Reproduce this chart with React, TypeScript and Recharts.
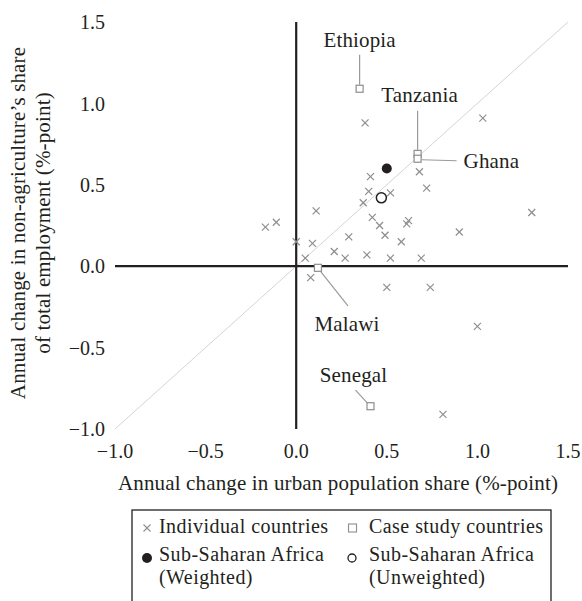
import React from 'react';
import { ScatterChart, Scatter, XAxis, YAxis, ReferenceLine } from 'recharts';

const FONT = 'Liberation Serif';
const INK = '#231f20';
const GREY = '#8e8e8e';

const axisTicks = [-1, -0.5, 0, 0.5, 1, 1.5];

const individualCountries = [
  { x: 0.38, y: 0.88 }, { x: 1.03, y: 0.91 }, { x: 0.41, y: 0.55 }, { x: 0.68, y: 0.58 },
  { x: 0.4, y: 0.46 }, { x: 0.52, y: 0.45 }, { x: 0.72, y: 0.48 }, { x: 0.37, y: 0.39 },
  { x: 0.11, y: 0.34 }, { x: 1.3, y: 0.33 }, { x: 0.42, y: 0.3 }, { x: 0.46, y: 0.25 },
  { x: 0.62, y: 0.28 }, { x: 0.61, y: 0.26 }, { x: 0.9, y: 0.21 }, { x: 0.29, y: 0.18 },
  { x: 0.49, y: 0.19 }, { x: 0.58, y: 0.15 }, { x: 0.0, y: 0.15 }, { x: 0.09, y: 0.14 },
  { x: 0.21, y: 0.09 }, { x: 0.27, y: 0.05 }, { x: 0.39, y: 0.07 }, { x: 0.05, y: 0.05 },
  { x: 0.52, y: 0.05 }, { x: 0.69, y: 0.05 }, { x: 0.08, y: -0.07 }, { x: 0.5, y: -0.13 },
  { x: 0.74, y: -0.13 }, { x: -0.17, y: 0.24 }, { x: -0.11, y: 0.27 }, { x: 1.0, y: -0.37 },
  { x: 0.81, y: -0.91 },
];

const caseNames = ['Ethiopia', 'Tanzania', 'Ghana', 'Malawi', 'Senegal'];
const caseX = [0.35, 0.67, 0.67, 0.12, 0.41];
const caseY = [1.09, 0.69, 0.66, -0.01, -0.86];

const ssaWeighted = [{ x: 0.5, y: 0.6 }];
const ssaUnweighted = [{ x: 0.47, y: 0.42 }];

const caseStudyCountries = caseNames.map((name, i) => ({ name, x: caseX[i], y: caseY[i] }));

// callout placement, in px relative to each marker
const callouts: Record<string, { line: number[]; text: number[]; anchor: 'start' | 'middle' }> = {
  Ethiopia: { line: [0, -34, 0, -4], text: [0, -42], anchor: 'middle' },
  Tanzania: { line: [0, -43, 0, -4], text: [2, -52], anchor: 'middle' },
  Ghana: { line: [4, 1, 39, 2], text: [46, 9], anchor: 'start' },
  Malawi: { line: [3, 4, 30, 38], text: [29, 63], anchor: 'middle' },
  Senegal: { line: [-15, -16, -3, -3], text: [-17, -24], anchor: 'middle' },
};

const fmt = (v: number) => v.toFixed(1).replace('-', '\u2212');

const Cross = ({ cx, cy }: any) => (
  <g stroke={GREY} strokeWidth={1.2}>
    <line x1={cx - 3.5} y1={cy - 3.5} x2={cx + 3.5} y2={cy + 3.5} />
    <line x1={cx - 3.5} y1={cy + 3.5} x2={cx + 3.5} y2={cy - 3.5} />
  </g>
);

const CaseSquare = ({ cx, cy, payload }: any) => {
  const c = callouts[payload.name];
  return (
    <g>
      <line
        x1={cx + c.line[0]} y1={cy + c.line[1]} x2={cx + c.line[2]} y2={cy + c.line[3]}
        stroke="#9a9a9a" strokeWidth={1.2}
      />
      <rect x={cx - 3.5} y={cy - 3.5} width={7} height={7} fill="white" stroke={GREY} strokeWidth={1.2} />
      <text
        x={cx + c.text[0]} y={cy + c.text[1]} textAnchor={c.anchor}
        fontFamily={FONT} fontSize={21} letterSpacing={0.15} fill={INK}
      >
        {payload.name}
      </text>
    </g>
  );
};

const Overlay = () => (
  <svg width={582} height={601} style={{ position: 'absolute', left: 0, top: 0, pointerEvents: 'none' }}
    fontFamily={FONT} fontSize={21} letterSpacing={0.15} fill={INK}>
    <text x={338} y={490} textAnchor="middle">Annual change in urban population share (%-point)</text>
    <text x={25} y={223} textAnchor="middle" transform="rotate(-90 25 223)">
      <tspan x={25} dy={0}>Annual change in non-agriculture’s share</tspan>
      <tspan x={25} dy={25}>of total employment (%-point)</tspan>
    </text>

    <rect x={132} y={510} width={419} height={110} fill="none" stroke={INK} strokeWidth={1.3} />
    <g fontSize={20} letterSpacing={0.45}>
      <g stroke={GREY} strokeWidth={1.1}>
        <line x1={143.5} y1={524.5} x2={150.5} y2={531.5} />
        <line x1={143.5} y1={531.5} x2={150.5} y2={524.5} />
      </g>
      <text x={159} y={533}>Individual countries</text>
      <rect x={348.5} y={524} width={8} height={8} fill="white" stroke={GREY} strokeWidth={1.1} />
      <text x={369} y={533}>Case study countries</text>

      <circle cx={147} cy={558} r={5} fill={INK} />
      <text x={159} y={561}>Sub-Saharan Africa</text>
      <text x={159} y={584}>(Weighted)</text>
      <circle cx={352} cy={558} r={4} fill="white" stroke={INK} strokeWidth={1.3} />
      <text x={369} y={561}>Sub-Saharan Africa</text>
      <text x={369} y={584}>(Unweighted)</text>
    </g>
  </svg>
);

export default function App() {
  return (
    <div style={{ position: 'absolute', left: 0, top: 0, width: 582, height: 601, overflow: 'hidden', background: 'white' }}>
      <ScatterChart width={582} height={601} margin={{ top: 22, right: 14, bottom: 142, left: 0 }}>
        <XAxis
          type="number" dataKey="x" domain={[-1, 1.5]} ticks={axisTicks} tickFormatter={fmt}
          height={30} tickSize={0} tickMargin={15} axisLine={false} tickLine={false}
          tick={{ fontSize: 20, fontFamily: FONT, fill: INK }} allowDataOverflow
        />
        <YAxis
          type="number" dataKey="y" domain={[-1, 1.5]} ticks={axisTicks} tickFormatter={fmt}
          width={115} tickSize={0} tickMargin={10} axisLine={false} tickLine={false}
          tick={{ fontSize: 20, fontFamily: FONT, fill: INK }} allowDataOverflow
        />
        <ReferenceLine segment={[{ x: -1, y: -1 }, { x: 1.5, y: 1.5 }]} stroke="#d4d4d4" strokeWidth={1} />
        <ReferenceLine x={0} stroke={INK} strokeWidth={2.2} />
        <ReferenceLine y={0} stroke={INK} strokeWidth={2.2} />
        <Scatter name="Individual countries" data={individualCountries} shape={<Cross />} isAnimationActive={false} />
        <Scatter name="Case study countries" data={caseStudyCountries} shape={<CaseSquare />} isAnimationActive={false} />
        <Scatter name="Sub-Saharan Africa (Weighted)" data={ssaWeighted} isAnimationActive={false}
          shape={(p: any) => <circle cx={p.cx} cy={p.cy} r={5} fill={INK} />} />
        <Scatter name="Sub-Saharan Africa (Unweighted)" data={ssaUnweighted} isAnimationActive={false}
          shape={(p: any) => <circle cx={p.cx} cy={p.cy} r={5} fill="white" stroke={INK} strokeWidth={1.5} />} />
      </ScatterChart>
      <Overlay />
    </div>
  );
}
